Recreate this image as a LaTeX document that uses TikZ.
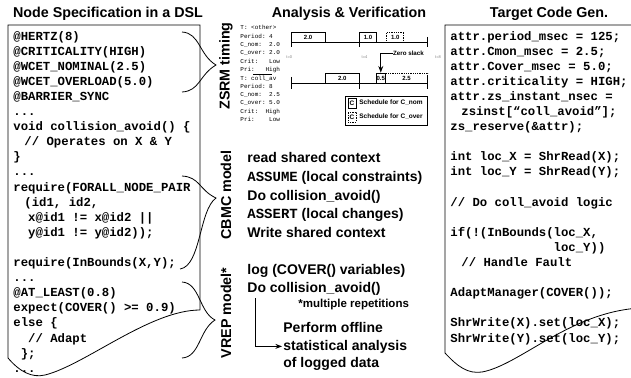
\documentclass[tikz,border=0pt]{standalone}
\usepackage{fontspec}
\setmainfont{Liberation Sans}
\setmonofont{Liberation Mono}
\usetikzlibrary{positioning, arrows.meta}

\begin{document}
\begin{tikzpicture}[x=1pt, y=-1pt, line width=0.8pt, >={Stealth},
  head/.style={font=\fontsize{14.3}{17}\selectfont\bfseries, inner sep=0, anchor=base},
  code/.style={font=\fontsize{12.3}{15.1}\selectfont\ttfamily\bfseries, align=left, inner sep=0, anchor=base west},
  model/.style={font=\fontsize{14.3}{17}\selectfont\bfseries, inner sep=0, rotate=90},
  stmt/.style={font=\fontsize{14}{17}\selectfont\bfseries, inner sep=0, anchor=base west},
  info/.style={font=\fontsize{6}{8.3}\selectfont\ttfamily, align=left, inner sep=0, anchor=base west},
  task/.style={draw, inner sep=0, minimum height=10pt, font=\fontsize{6}{7}\selectfont\bfseries},
  tlabel/.style={font=\fontsize{4}{5}\selectfont, text=gray, inner sep=0},
  legtext/.style={font=\fontsize{6.5}{8}\selectfont\bfseries, inner sep=0, anchor=west}]

    \useasboundingbox (0,0) rectangle (631,377);

    % column headings
    \node[head] (hdsl) at (108,18) {Node Specification in a DSL};
    \node[head] (hana) at (349,18) {Analysis \& Verification};
    \node[head] (hgen) at (549,18) {Target Code Gen.};

    % DSL page, torn at the bottom (node base = last line)
    \draw (200,310) -- (200,25) -- (8,25) -- (8,358)
      .. controls (20,372) and (32,378) .. (45,375)
      .. controls (85,365) and (150,310) .. (200,310);
    \node[code] (dsl) at (13,372.2) {@HERTZ(8)\\
@CRITICALITY(HIGH)\\
@WCET\_NOMINAL(2.5)\\
@WCET\_OVERLOAD(5.0)\\
@BARRIER\_SYNC\\
...\\
void collision\_avoid() \{\\
\hspace*{0.9em}// Operates on X \& Y\\
\}\\
...\\
require(FORALL\_NODE\_PAIR\\
\hspace*{0.9em}(id1, id2,\\
\hspace*{1.2em}x@id1 != x@id2 ||\\
\hspace*{1.2em}y@id1 != y@id2));\\
\mbox{}\\
require(InBounds(X,Y);\\
...\\
@AT\_LEAST(0.8)\\
expect(COVER() >= 0.9)\\
else \{\\
\hspace*{1.2em}// Adapt\\
\hspace*{0.6em}\};\\
...};

    % braces to the models
    \draw (182,32) .. controls (200,33) and (199,55) .. (216,65)
      .. controls (199,75) and (200,91) .. (182,92);
    \draw (182,176) .. controls (200,177) and (199,190) .. (216,198)
      .. controls (199,210) and (201,266) .. (180,269);
    \draw (182,282) .. controls (200,283) and (199,312) .. (215,320)
      .. controls (199,330) and (200,357) .. (182,358);

    \node[model] (zsrm) at (226,66) {ZSRM timing};
    \node[model] (cbmc) at (226,195) {CBMC model};
    \node[model] (vrep) at (226,313) {VREP model*};

    % ZSRM task parameters
    \node[info] (oth) at (240,71.5) {T:~<other>\\Period:~4\\C\_nom:~~2.0\\C\_over:~2.0\\Crit:~~~Low\\Pri:~~~High};
    \draw[line width=0.5pt] (253,74) -- (272,74);
    \node[info] (col) at (240,121.5) {T:~coll\_av\\Period:~8\\C\_nom:~~2.5\\C\_over:~5.0\\Crit:~~High\\Pri:~~~~Low};

    % time lines
    \begin{scope}[xshift=291pt, x=17.1pt]
      \draw (0,42) -- (8,42);
      \draw (0,83) -- (8,83);
      \foreach \t in {0,4,8} {
        \draw (\t,37) -- (\t,47);
        \draw (\t,77) -- (\t,89);
      }
      \node[task, minimum width=34.2pt] (o1) at (1,37) {2.0};
      \node[task, minimum width=17.1pt] (o2) at (4.5,37) {1.0};
      \node[task, densely dotted, minimum width=17.1pt] (o3) at (6.1,37) {1.0};
      \node[task, minimum width=34.2pt] (c1) at (3,78) {2.0};
      \node[task, minimum width=8.55pt] (c2) at (5.25,78) {0.5};
      \node[task, densely dotted, minimum width=42.75pt] (c3) at (6.75,78) {2.5};
      \node[tlabel] (t0) at (-0.1,57) {t=0};
      \node[tlabel] (t4) at (4.3,57) {t=4};
      \node[tlabel] (t8) at (8.6,57) {t=8};
      \node[legtext, font=\fontsize{6.2}{7}\selectfont\bfseries] (zs) at (5.95,53) {Zero slack};
      \draw[->] (zs.west) -| (c2.north);
    \end{scope}

    % legend
    \draw[line width=0.6pt] (345,96) rectangle (427,125);
    \node[draw, inner sep=0, minimum width=8pt, minimum height=10pt, font=\fontsize{6.5}{7}\selectfont\bfseries] (cnom) at (352,103) {C};
    \node[legtext] (lnom) at (359,103) {Schedule for C\_nom};
    \node[draw, densely dotted, inner sep=0, minimum width=8pt, minimum height=10pt, font=\fontsize{6.5}{7}\selectfont\bfseries] (cover) at (352,117) {C};
    \node[legtext] (lover) at (359,117) {Schedule for C\_over};

    % CBMC model
    \node[stmt] (rd) at (247,162) {read shared context};
    \node[stmt] (asm) at (247,181) {\texttt{ASSUME} (local constraints)};
    \node[stmt] (do1) at (247,200) {Do collision\_avoid()};
    \node[stmt] (ast) at (247,218) {\texttt{ASSERT} (local changes)};
    \node[stmt] (wr) at (247,237) {Write shared context};

    % VREP model
    \node[stmt] (lg) at (247,274) {log (COVER() variables)};
    \node[stmt] (do2) at (247,292) {Do collision\_avoid()};
    \node[stmt, font=\fontsize{11.5}{14}\selectfont\bfseries] (rep) at (298,307) {*multiple repetitions};
    \node[stmt] (pf) at (283,332) {Perform offline};
    \node[stmt] (sa) at (283,350) {statistical analysis};
    \node[stmt] (ld) at (283,367) {of logged data};
    \draw[->] ([xshift=8pt, yshift=-3pt]do2.south west) |- ([xshift=-1pt]sa.west);

    % generated code page, torn at the bottom (node base = last line)
    \draw (640,308) .. controls (570,312) and (520,365) .. (482,372)
      .. controls (468,374) and (458,367) .. (445,353) -- (445,25) -- (640,25);
    \node[code] (gen) at (450,342) {attr.period\_msec = 125;\\
attr.Cmon\_msec = 2.5;\\
attr.Cover\_msec = 5.0;\\
attr.criticality = HIGH;\\
attr.zs\_instant\_nsec =\\
\hspace*{0.9em}zsinst[“coll\_avoid”];\\
zs\_reserve(\&attr);\\
\mbox{}\\
int loc\_X = ShrRead(X);\\
int loc\_Y = ShrRead(Y);\\
\mbox{}\\
// Do coll\_avoid logic\\
\mbox{}\\
if(!(InBounds(loc\_X,\\
\hspace*{8.4em}loc\_Y))\\
\hspace*{0.9em}// Handle Fault\\
\mbox{}\\
AdaptManager(COVER());\\
\mbox{}\\
ShrWrite(X).set(loc\_X);\\
ShrWrite(Y).set(loc\_Y);};

\end{tikzpicture}
\end{document}
